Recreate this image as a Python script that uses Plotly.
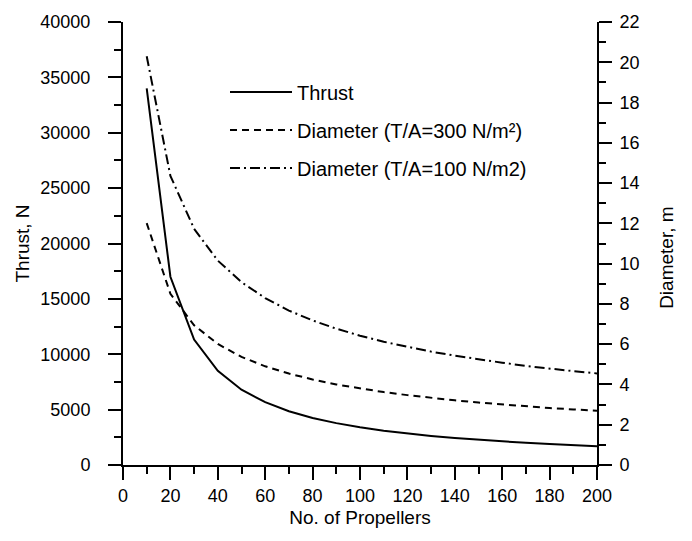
import plotly.graph_objects as go

# Number of propellers
propellers = [10, 20, 30, 40, 50, 60, 70, 80, 90, 100,
              110, 120, 130, 140, 150, 160, 170, 180, 190, 200]

# Thrust per propeller, N
thrust = [34000, 17000, 11330, 8500, 6800, 5670, 4860, 4250, 3780, 3400,
          3090, 2830, 2620, 2430, 2270, 2130, 2000, 1890, 1790, 1700]

# Propeller diameter, m, at disc loading T/A = 300 N/m2
dia_300 = [12.01, 8.50, 6.94, 6.01, 5.37, 4.90, 4.54, 4.25, 4.00, 3.80,
           3.62, 3.47, 3.33, 3.21, 3.10, 3.00, 2.91, 2.83, 2.76, 2.69]

# Propeller diameter, m, at disc loading T/A = 100 N/m2
dia_100 = [20.30, 14.36, 11.73, 10.15, 9.08, 8.29, 7.67, 7.18, 6.77, 6.42,
           6.12, 5.86, 5.63, 5.43, 5.24, 5.08, 4.92, 4.78, 4.66, 4.55]

FONT = "Liberation Sans, Arial, sans-serif"
W, H = 692, 541
L, R, T, B = 123, 95, 18, 76

fig = go.Figure()
fig.add_trace(go.Scatter(
    x=propellers, y=thrust, name="Thrust", mode="lines",
    line=dict(color="black", width=2), legendgroup="a"))
fig.add_trace(go.Scatter(
    x=propellers, y=dia_300, name="Diameter (T/A=300 N/m²)", mode="lines",
    yaxis="y2", line=dict(color="black", width=2, dash="7px,5px"),
    legendgroup="b"))
fig.add_trace(go.Scatter(
    x=propellers, y=dia_100, name="Diameter (T/A=100 N/m2)", mode="lines",
    yaxis="y2", line=dict(color="black", width=2, dash="10px,4px,2px,4px"),
    legendgroup="c"))

axis_common = dict(
    showgrid=False, zeroline=False, showline=True, linecolor="black",
    linewidth=2, ticks="outside", ticklen=13, tickwidth=2, tickcolor="black",
    tickfont=dict(family=FONT, size=18, color="black"),
    tickformat="d",
)
minor_common = dict(ticks="outside", ticklen=7, tickwidth=2, tickcolor="black")
title_font = dict(family=FONT, size=19, color="black")

fig.update_layout(
    width=W, height=H,
    margin=dict(l=L, r=R, t=T, b=B, pad=0),
    paper_bgcolor="white", plot_bgcolor="white",
    font=dict(family=FONT, color="black"),
    xaxis=dict(
        range=[0, 200], dtick=20, tick0=0,
        minor=dict(dtick=10, **minor_common),
        title=dict(text="No. of Propellers", font=title_font, standoff=6),
        **axis_common),
    yaxis=dict(
        range=[0, 40000], dtick=5000, tick0=0,
        minor=dict(dtick=2500, **minor_common),
        title=dict(text="Thrust, N", font=title_font, standoff=6),
        ticklabelstandoff=14,
        **axis_common),
    yaxis2=dict(
        range=[0, 22], dtick=2, tick0=0, overlaying="y", side="right",
        minor=dict(dtick=1, **minor_common),
        ticklabelstandoff=4,
        **axis_common),
    legend=dict(
        x=(225 - L) / (W - L - R), y=1 - (69 - T) / (H - T - B),
        xanchor="left", yanchor="top",
        bgcolor="rgba(0,0,0,0)", borderwidth=0,
        font=dict(family=FONT, size=20, color="black"),
        itemwidth=62, tracegroupgap=9, traceorder="grouped",
    ),
    showlegend=True,
)

fig.add_annotation(
    text="Diameter, m", textangle=-90, showarrow=False,
    xref="paper", yref="paper",
    x=(667 - L) / (W - L - R), y=1 - (256 - T) / (H - T - B),
    xanchor="center", yanchor="middle",
    font=title_font)

fig.write_html("out.html")
